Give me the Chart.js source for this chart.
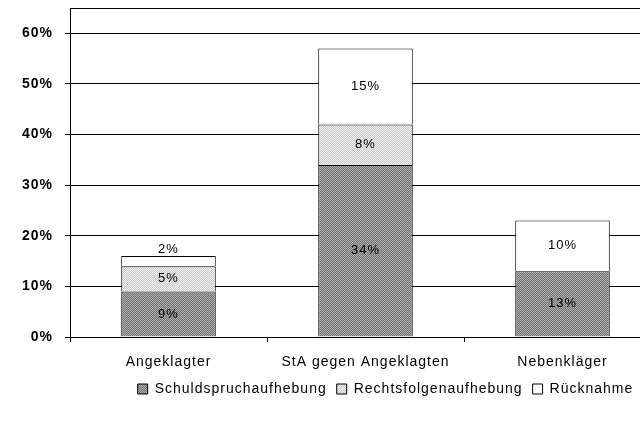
<!DOCTYPE html>
<html>
<head>
<meta charset="utf-8">
<script src="https://cdn.jsdelivr.net/npm/chart.js@4/dist/chart.umd.min.js"></script>
<style>
  html, body { margin: 0; padding: 0; background: #fff; overflow: hidden; }
  #wrap { width: 662px; height: 421px; position: relative; }
</style>
</head>
<body>
<div id="wrap"><canvas id="c"></canvas></div>
<script>
// ---- data ----
const categories = ['Angeklagter', 'StA gegen Angeklagten', 'Nebenkläger'];
const seriesNames = ['Schuldspruchaufhebung', 'Rechtsfolgenaufhebung', 'Rücknahme'];
const schuldspruch = [9, 34, 13];
const rechtsfolgen = [5, 8, 0];
const ruecknahme = [2, 15, 10];
const yTicks = [0, 10, 20, 30, 40, 50, 60];
const yMax = 65;

// ---- fill patterns ----
function makePattern(c1, c2) {
  const cv = document.createElement('canvas');
  cv.width = 2; cv.height = 2;
  const x = cv.getContext('2d');
  x.fillStyle = c1; x.fillRect(0, 0, 2, 2);
  x.fillStyle = c2; x.fillRect(0, 0, 1, 1); x.fillRect(1, 1, 1, 1);
  return x.createPattern(cv, 'repeat');
}
const darkFill = makePattern('#707070', '#b0b0b0');
const lightFill = makePattern('#c8c8c8', '#f2f2f2');

const spacingPlugin = {
  id: 'spacing',
  beforeUpdate(chart) { chart.ctx.letterSpacing = '1px'; },
  beforeDraw(chart) { chart.ctx.letterSpacing = '1px'; }
};

const legendShift = {
  id: 'legendShift',
  afterLayout(chart) {
    const lg = chart.legend;
    if (lg) { lg.left += 55; lg.right += 55; }
  }
};

const labelPlugin = {
  id: 'segLabels',
  afterDatasetsDraw(chart) {
    const ctx = chart.ctx;
    ctx.save();
    ctx.letterSpacing = '1px';
    ctx.font = '13px "Liberation Sans", Arial, sans-serif';
    ctx.fillStyle = '#000';
    ctx.textAlign = 'center';
    chart.data.datasets.forEach((ds, di) => {
      const meta = chart.getDatasetMeta(di);
      meta.data.forEach((bar, i) => {
        const v = ds.data[i];
        if (!v) return;
        const top = Math.min(bar.y, bar.base);
        const h = Math.abs(bar.base - bar.y);
        if (h < 14) {
          ctx.textBaseline = 'bottom';
          ctx.fillText(v + '%', bar.x, top);
        } else {
          ctx.textBaseline = 'middle';
          ctx.fillText(v + '%', bar.x, top + h / 2);
        }
      });
    });
    ctx.restore();
  }
};

const fontFam = '"Liberation Sans", Arial, sans-serif';

new Chart(document.getElementById('c'), {
  type: 'bar',
  data: {
    labels: categories,
    datasets: [
      { label: seriesNames[0], data: schuldspruch, backgroundColor: darkFill, borderColor: '#000', borderWidth: 1 },
      { label: seriesNames[1], data: rechtsfolgen, backgroundColor: lightFill, borderColor: '#000', borderWidth: 1 },
      { label: seriesNames[2], data: ruecknahme, backgroundColor: '#fff', borderColor: '#000', borderWidth: 1 }
    ]
  },
  options: {
    responsive: true,
    maintainAspectRatio: false,
    animation: false,
    layout: { padding: { top: 8, left: 0, right: 1, bottom: 15 } },
    datasets: { bar: { categoryPercentage: 0.96, barPercentage: 0.5 } },
    plugins: {
      legend: {
        position: 'bottom',
        labels: {
          boxWidth: 10, boxHeight: 10, padding: 10, color: '#000',
          font: { family: fontFam, size: 14 }
        }
      },
      tooltip: { enabled: false }
    },
    scales: {
      x: {
        stacked: true,
        afterFit(s) { s.height = 35; },
        grid: { display: true, drawOnChartArea: false, tickLength: 5, color: '#000' },
        border: { display: true, color: '#000', width: 1 },
        ticks: { color: '#000', padding: 12, maxRotation: 0, font: { family: fontFam, size: 14 } }
      },
      y: {
        stacked: true,
        min: 0,
        max: yMax,
        afterFit(s) { s.width = 70; s.paddingTop = 0; s.paddingBottom = 0; },
        afterBuildTicks(s) { s.ticks = yTicks.concat([yMax]).map(v => ({ value: v })); },
        grid: {
          color: '#000', lineWidth: 1, tickLength: 5,
          tickColor: (c) => (c.tick && c.tick.value === yMax) ? 'rgba(0,0,0,0)' : '#000'
        },
        border: { display: true, color: '#000', width: 1 },
        ticks: {
          color: '#000', padding: 12,
          font: { family: fontFam, size: 14, weight: 'bold' },
          callback: (v) => yTicks.includes(v) ? v + '%' : ''
        }
      }
    }
  },
  plugins: [spacingPlugin, legendShift, labelPlugin]
});
</script>
</body>
</html>
